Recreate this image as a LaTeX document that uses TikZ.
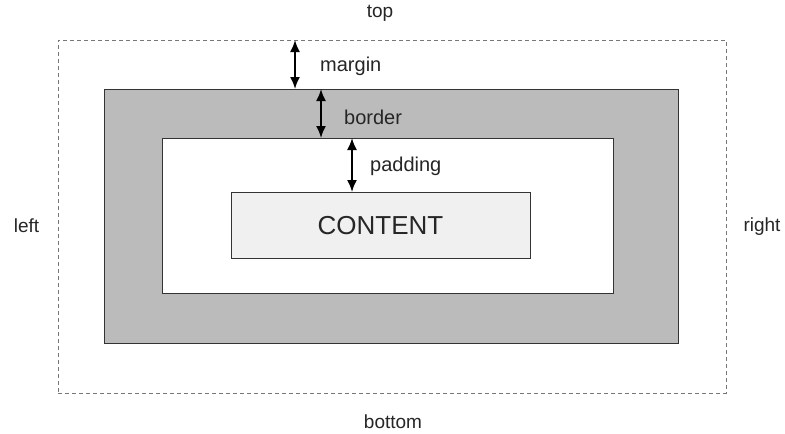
\documentclass[tikz,border=0pt]{standalone}
\usepackage{fontspec}
\setmainfont{Liberation Sans}
\usetikzlibrary{arrows.meta}
\definecolor{edgegray}{HTML}{333333}
\definecolor{bordergray}{HTML}{BBBBBB}
\definecolor{contentfill}{HTML}{EFF0EF}
\definecolor{dashgray}{HTML}{777777}
\tikzset{
  box/.style={draw=edgegray, line width=1pt, inner sep=0pt, outer sep=0pt, anchor=north west},
  lbl/.style={font=\fontsize{20}{23}\selectfont, inner sep=0pt, text=black!85},
  olbl/.style={font=\fontsize{19}{22}\selectfont, inner sep=0pt, text=black!85},
  dim/.style={{Latex[length=12pt,width=10pt]}-{Latex[length=12pt,width=10pt]}, line width=1.8pt, black}
}
\begin{document}
\begin{tikzpicture}[x=1pt,y=-1pt]
\useasboundingbox (0,0) rectangle (785,434);
\fill[white] (0,0) rectangle (785,434);
\node[box, draw=dashgray, dashed, dash pattern=on 4pt off 3pt, line width=0.8pt, minimum width=668pt, minimum height=353pt] (marginbox) at (58,40) {};
\node[box, fill=bordergray, minimum width=574pt, minimum height=254pt] (borderbox) at (104,89) {};
\node[box, fill=white, minimum width=451pt, minimum height=155pt] (paddingbox) at (162,138) {};
\node[box, fill=contentfill, minimum width=299pt, minimum height=66pt] (contentbox) at (231,192) {};
\node[font=\fontsize{26}{30}\selectfont, text=black!85] (contenttext) at ([yshift=-1pt]contentbox.center) {CONTENT};
\coordinate (am) at (295,0);
\coordinate (ab) at (321,0);
\coordinate (ap) at (352,0);
\draw[dim] (am |- marginbox.north) -- (am |- borderbox.north);
\draw[dim] (ab |- borderbox.north) -- (ab |- paddingbox.north);
\draw[dim] (ap |- paddingbox.north) -- (ap |- contentbox.north);
\node[lbl, anchor=west] (lmargin) at (320,66) {margin};
\node[lbl, anchor=west] (lborder) at (344,117) {border};
\node[lbl, anchor=west] (lpadding) at (370,166) {padding};
\node[olbl] (ltop) at (380,13) {top};
\node[olbl] (lbottom) at (393,422) {bottom};
\node[olbl] (lleft) at (26.5,226) {left};
\node[olbl] (lright) at (762,227) {right};
\end{tikzpicture}
\end{document}
